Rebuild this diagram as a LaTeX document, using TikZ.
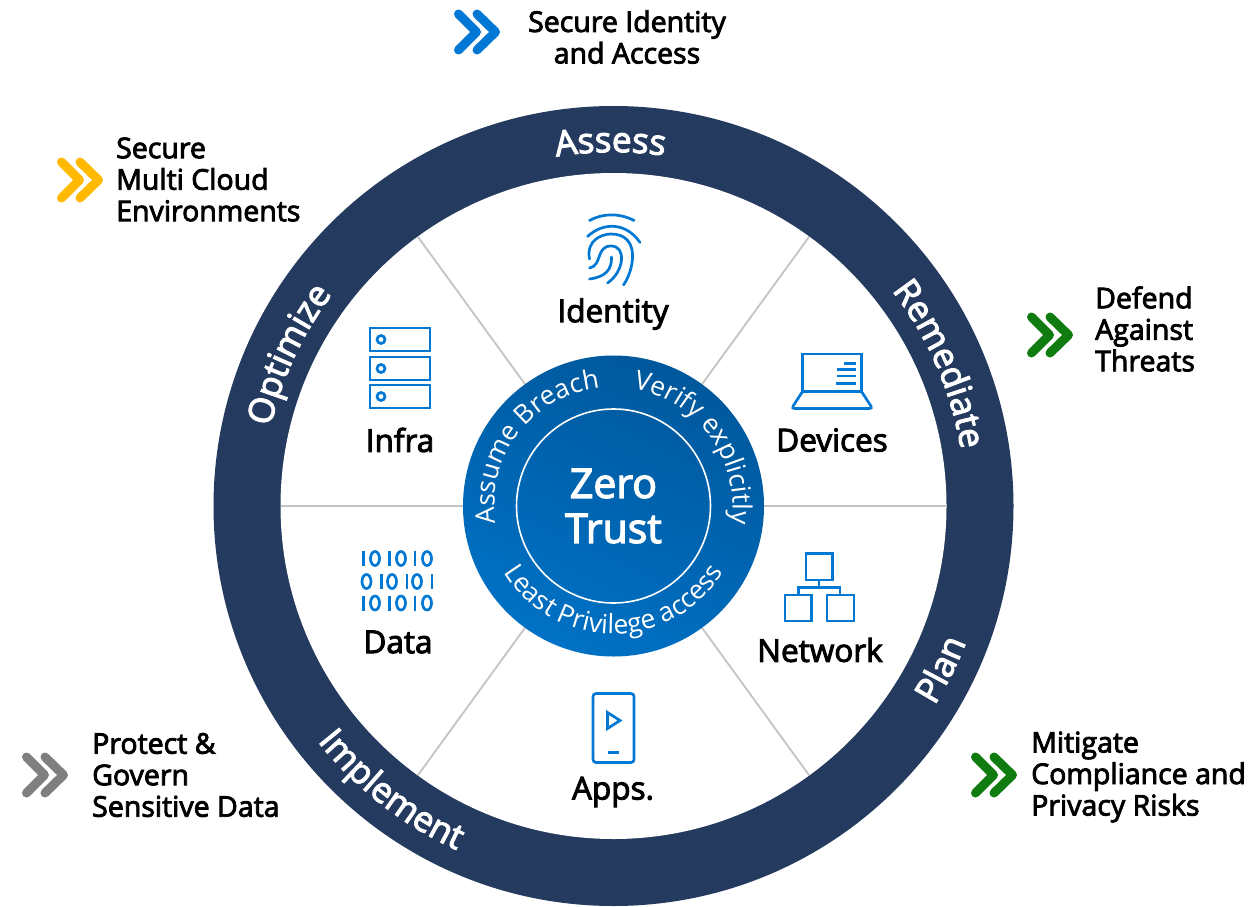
\documentclass[tikz,border=0pt]{standalone}
\usepackage{fontspec}
\usepackage{xcolor}
\usetikzlibrary{calc,decorations.text}
\setmainfont{Open Sans}
\newfontfamily\labelfont[FakeBold=3]{Open Sans}
\newcommand{\ringfont}{\labelfont\fontsize{35}{35}\selectfont}
\newcommand{\hubfont}{\fontsize{26.5}{26.5}\selectfont}
\definecolor{ringnavy}{HTML}{243A5E}
\definecolor{iconblue}{HTML}{0078D4}
\definecolor{hubdark}{HTML}{00589C}
\definecolor{hublight}{HTML}{0071C5}
\definecolor{spokegray}{HTML}{C4C4C4}
\definecolor{chevgreen}{HTML}{107C10}
\definecolor{chevyellow}{HTML}{FFB900}
\definecolor{chevgray}{HTML}{7F7F7F}
\tikzset{
	chevrons/.pic={
		\draw[line width=9pt, line cap=round, line join=round, color=#1] (-18.5,-18) -- (-0.5,0) -- (-18.5,18);
		\draw[line width=9pt, line cap=round, line join=round, color=#1] (0,-18) -- (18.5,0) -- (0,18);
	}
}
\begin{document}
\begin{tikzpicture}[x=1pt, y=-1pt,
	sidelabel/.style={font=\labelfont\fontsize{28.5}{31.5}\selectfont, align=left, anchor=west, inner sep=0pt},
	sector/.style={font=\labelfont\fontsize{31.5}{31.5}\selectfont, inner sep=0pt},
	iconline/.style={draw=iconblue, line width=2.7pt},
	ringtext/.style={decorate, decoration={text along path, text color=white, text align=center, text={|\ringfont|#1}}},
	hubtext/.style={decorate, decoration={text along path, text color=white, text align=center, text={|\hubfont|#1}}}]
	\useasboundingbox (0,0) rectangle (1255,907);
	\coordinate (o) at (613.5,506);

	% wheel
	\node[circle, fill=ringnavy, inner sep=0pt, minimum size=800pt] (ring) at (o) {};
	\node[circle, fill=white, inner sep=0pt, minimum size=666pt] (hole) at (o) {};
	\foreach \a in {0,54,126,180,234,306}
		\draw[spokegray, line width=1.8pt] (o) -- ($(o)+(\a:333pt)$);

	% hub
	\node[circle, inner sep=0pt, minimum size=301pt, top color=hubdark, bottom color=hublight, shading angle=-25] (hub) at (o) {};
	\node[circle, draw=white, line width=1.6pt, inner sep=0pt, minimum size=194pt] (core) at (o) {};
	\node[font=\labelfont\fontsize{41}{45}\selectfont, text=white, align=center, inner sep=0pt] (zero) at (613.5,506) {Zero\\Trust};
	\path[hubtext={Assume Breach}] ($(o)+(215:119pt)$) arc[start angle=215, end angle=70, radius=119pt];
	\path[hubtext={Verify explicitly}] ($(o)+(106:119pt)$) arc[start angle=106, end angle=-34, radius=119pt];
	\path[hubtext={Least Privilege access}] ($(o)+(190:128pt)$) arc[start angle=190, end angle=350, radius=128pt];

	% ring labels
	\path[ringtext={Assess}] ($(o)+(130.5:354pt)$) arc[start angle=130.5, end angle=50.5, radius=354pt];
	\path[ringtext={Optimize}] ($(o)+(205:352pt)$) arc[start angle=205, end angle=105, radius=352pt];
	\path[ringtext={Remediate}] ($(o)+(73.5:352pt)$) arc[start angle=73.5, end angle=-26.5, radius=352pt];
	\path[ringtext={Plan}] ($(o)+(283.5:378pt)$) arc[start angle=283.5, end angle=383.5, radius=378pt];
	\path[ringtext={Implement}] ($(o)+(182:378pt)$) arc[start angle=182, end angle=282, radius=378pt];

	% sectors
	\node[sector] (identity) at (613,314) {Identity};
	\node[sector] (devices) at (832,440) {Devices};
	\node[sector] (network) at (820,650) {Network};
	\node[sector] (apps) at (613,792) {Apps.};
	\node[sector] (data) at (398,642) {Data};
	\node[sector] (infra) at (400,440) {Infra};

	% fingerprint
	\draw[iconline, line cap=round] (589.5,220.5) .. controls (603,213) and (620,213) .. (634,220.5);
	\draw[iconline, line cap=round] (587.5,236.5) .. controls (603,222) and (626,222) .. (640,242.5);
	\draw[iconline, line cap=round] (589.5,259) .. controls (586,240) and (602,234) .. (611,234) .. controls (640,234) and (635,268) .. (623.5,285);
	\draw[iconline, line cap=round] (589.5,268) .. controls (602,266) and (596,246) .. (611,246) .. controls (627,246) and (624,272) .. (607.5,283);
	\draw[iconline, line cap=round] (589.5,279) .. controls (605,277) and (612,270) .. (611.5,257);

	% laptop
	\draw[iconline] (802.5,391.5) rectangle (861.5,354);
	\draw[iconline, rounded corners=3pt] (802.5,391.5) -- (791.5,408.5) -- (872.5,408.5) -- (861.5,391.5);
	\draw[iconline] (844,363.5) -- (856,363.5);
	\draw[iconline] (836.5,369.5) -- (856,369.5);
	\draw[iconline] (836.5,376) -- (856,376);
	\draw[iconline] (836,383.5) -- (856,383.5);

	% network
	\draw[iconline] (806,553.5) rectangle (832.5,580);
	\draw[iconline] (785,595) rectangle (811.5,621);
	\draw[iconline] (827,595) rectangle (854,621);
	\draw[iconline] (819,580) -- (819,587.5);
	\draw[iconline] (798.5,595) -- (798.5,587.5) -- (840,587.5) -- (840,595);

	% phone
	\draw[iconline, rounded corners=3pt] (593,693.5) rectangle (634,762.5);
	\draw[iconline] (607.5,712.5) -- (620,720.5) -- (607.5,728.5) -- cycle;
	\draw[iconline] (607.5,752.5) -- (619,752.5);

	% bits
	\foreach \x in {363.5,389.5,415} \draw[iconline] (\x,551) -- (\x,566);
	\foreach \x in {375,401,427} \draw[iconline] (\x,558.5) ellipse[x radius=4.5pt, y radius=7pt];
	\foreach \x in {366.5,392,417} \draw[iconline] (\x,581.5) ellipse[x radius=4.5pt, y radius=7pt];
	\foreach \x in {381.5,407,432} \draw[iconline] (\x,574) -- (\x,589);
	\foreach \x in {363.5,389.5,415} \draw[iconline] (\x,595.5) -- (\x,610.5);
	\foreach \x in {375,401,427} \draw[iconline] (\x,603) ellipse[x radius=4.5pt, y radius=7pt];

	% servers
	\foreach \y in {328,357,385} {
		\draw[iconline] (370,\y) rectangle (430,\y+23);
		\draw[iconline] (381,\y+11.5) circle[radius=4pt];
	}

	% chevrons and goals
	\pic (chevblue) at (477,32) {chevrons=iconblue};
	\pic (chevyellow) at (80,180) {chevrons=chevyellow};
	\pic (chevdefend) at (1050,335) {chevrons=chevgreen};
	\pic (chevmitigate) at (994,775) {chevrons=chevgreen};
	\pic (chevgray) at (45,775) {chevrons=chevgray};

	\node[sidelabel, align=center, anchor=center] (identitygoal) at (627,37) {Secure Identity\\and Access};
	\node[sidelabel] (cloudgoal) at (116,179.5) {Secure\\Multi Cloud\\Environments};
	\node[sidelabel] (threatgoal) at (1095,329) {Defend\\Against\\Threats};
	\node[sidelabel] (datagoal) at (92,775) {Protect \&\\Govern\\Sensitive Data};
	\node[sidelabel] (riskgoal) at (1031,777) {Mitigate\\Compliance and\\Privacy Risks};
\end{tikzpicture}
\end{document}
